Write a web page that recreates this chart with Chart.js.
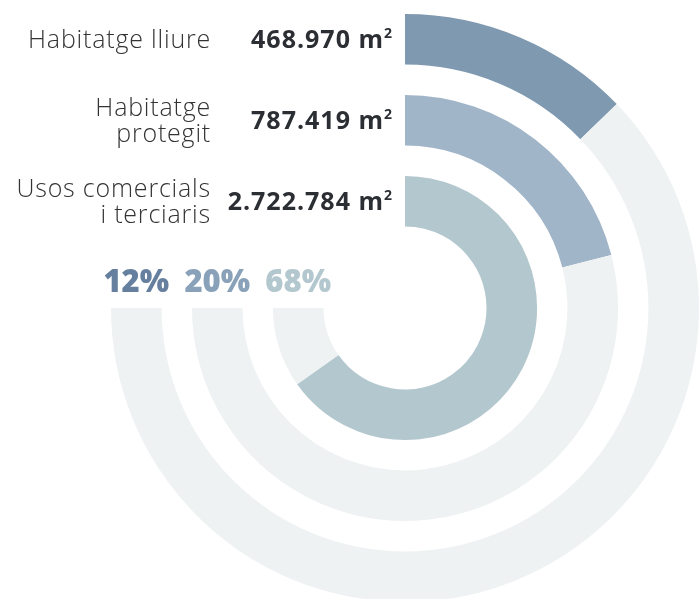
<!DOCTYPE html>
<html>
<head>
<meta charset="utf-8">
<script src="https://cdn.jsdelivr.net/npm/chart.js@4"></script>
<style>
  html, body { margin: 0; padding: 0; background: #fff; overflow: hidden; }
  #wrap { position: relative; width: 700px; height: 620px; }
</style>
</head>
<body>
<div id="wrap"><canvas id="c1"></canvas></div>
<script>
// rings, outermost first
var labels = [['Habitatge lliure'], ['Habitatge', 'protegit'], ['Usos comercials', 'i terciaris']];
var areas = ['468.970', '787.419', '2.722.784'];
var percents = [12, 20, 68];
// share of the full circle covered by each coloured arc, as drawn
var arcShare = [12.8, 21.0, 65.2];
var trackShare = 75; // the grey track runs 3/4 of the circle
var ringColors = ['#7f99b0', '#a1b5c9', '#b3c7ce'];
var pctColors = ['#667f9e', '#89a1b9', '#b3c7ce'];
var trackColor = '#eef2f3';

(function(divId){
    var datasets = [];
    arcShare.forEach(function(v, i){
        if (i > 0) {
            datasets.push({ data: [1], backgroundColor: ['rgba(0,0,0,0)'], borderWidth: 0, weight: 3, spacer: true, circumference: 270 });
        }
        datasets.push({
            label: labels[i].join(' '),
            data: [v, trackShare - v],
            backgroundColor: [ringColors[i], trackColor],
            borderWidth: 0,
            weight: 5,
            circumference: 270
        });
    });

    var textPlugin = {
        id: 'ringText',
        afterDraw: function(chart){
            var ctx = chart.ctx;
            var ring = 0;
            chart.data.datasets.forEach(function(ds, di){
                if (ds.spacer) return;
                var arc = chart.getDatasetMeta(di).data[0];
                var cx = arc.x, cy = arc.y;
                var midR = (arc.innerRadius + arc.outerRadius) / 2;
                var ty = cy - midR;
                ctx.save();
                // area value with superscript 2
                ctx.fillStyle = '#2b2e33';
                ctx.textBaseline = 'alphabetic';
                ctx.textAlign = 'right';
                ctx.font = 'bold 14px "Open Sans", sans-serif';
                var supW = ctx.measureText('2').width;
                var right = cx - 13;
                ctx.fillText('2', right, ty - 1);
                ctx.font = 'bold 25px "Open Sans", sans-serif';
                ctx.letterSpacing = '1px';
                ctx.fillText(areas[ring] + ' m', right - supW, ty + 9);
                // category label
                ctx.fillStyle = '#333333';
                ctx.font = '300 25px "Open Sans", sans-serif';
                ctx.letterSpacing = '0.8px';
                var lines = labels[ring];
                var lh = 26;
                var y0 = ty + 9 - (lines.length - 1) * lh / 2;
                lines.forEach(function(t, k){
                    ctx.fillText(t, cx - 194, y0 + k * lh);
                });
                // percentage above the track's end
                ctx.fillStyle = pctColors[ring];
                ctx.textAlign = 'center';
                ctx.letterSpacing = '0px';
                ctx.font = '800 31px "Open Sans", sans-serif';
                ctx.fillText(percents[ring] + '%', cx - midR, cy - 16);
                ctx.restore();
                ring++;
            });
        }
    };

    var div = document.getElementById(divId);
    if (!div)
        return;

    var ctx = div.getContext("2d");
    var chart = new Chart(ctx, {
        type: 'doughnut',
        data: { labels: ['share', 'rest'], datasets: datasets },
        options: {
            responsive: true,
            maintainAspectRatio: false,
            animation: false,
            cutout: 81.5,
            rotation: 0,
            layout: { padding: { left: 111, right: 1, top: 14, bottom: 18 } },
            plugins: { legend: { display: false }, tooltip: { enabled: false } }
        },
        plugins: [textPlugin]
    });
})("c1");
</script>
</body>
</html>
